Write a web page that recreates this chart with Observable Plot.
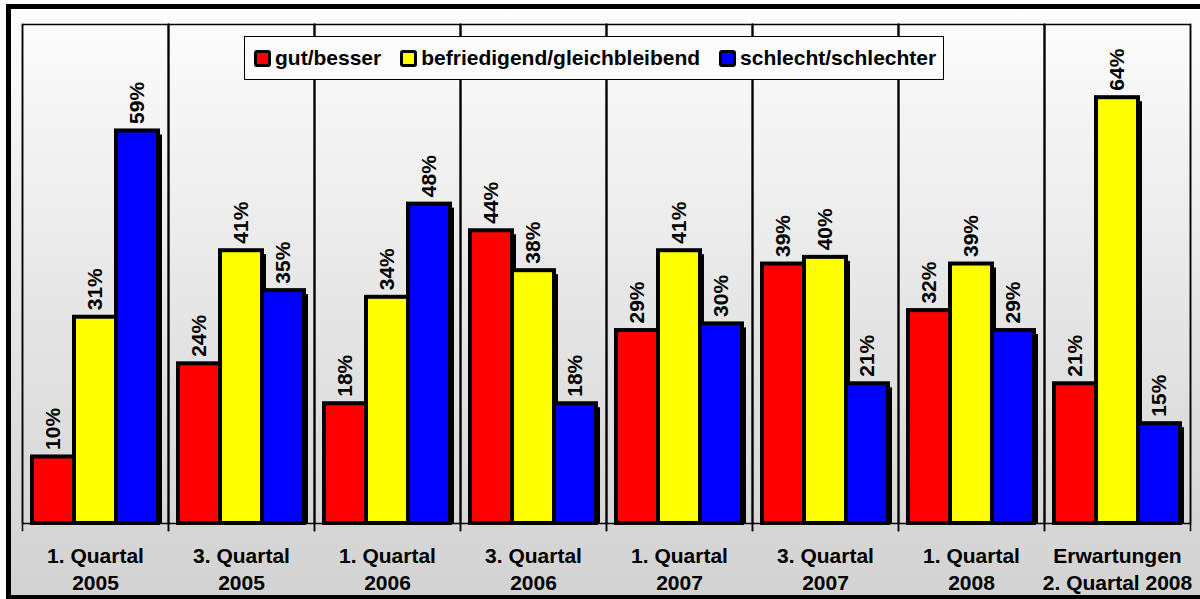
<!DOCTYPE html>
<html>
<head>
<meta charset="utf-8">
<script src="https://cdn.jsdelivr.net/npm/d3@7"></script>
<script src="https://cdn.jsdelivr.net/npm/@observablehq/plot@0.6"></script>
<style>
  html, body { margin: 0; padding: 0; background: #fff; }
  #wrap { position: relative; width: 1200px; height: 599px; overflow: hidden; font-family: "Liberation Sans", Arial, sans-serif; }
  #bg { position: absolute; left: 6px; top: 4px; width: 1210px; height: 596px; box-sizing: border-box;
        border: 5px solid #000; background: linear-gradient(to bottom, #fdfdfd 0%, #e6e6e6 50%, #d2d2d2 100%); }
  #chart { position: absolute; left: 0; top: 0; }
  #legend { position: absolute; left: 244px; top: 36px; width: 700px; height: 44px; box-sizing: border-box;
            border: 1.5px solid #000; background: #fbfbfb; display: flex; align-items: center; padding-left: 9px;
            font-size: 21px; font-weight: bold; color: #000; }
  .item { display: flex; align-items: center; margin-right: 19px; white-space: nowrap; }
  .sw { width: 17px; height: 17px; box-sizing: border-box; border: 3px solid #000; border-radius: 3px; margin-right: 4px; }
</style>
</head>
<body>
<div id="wrap">
  <div id="bg"></div>
  <div id="chart"></div>
  <div id="legend"></div>
</div>
<script>
const categories = [
  "1. Quartal\n2005", "3. Quartal\n2005", "1. Quartal\n2006", "3. Quartal\n2006",
  "1. Quartal\n2007", "3. Quartal\n2007", "1. Quartal\n2008", "Erwartungen\n2. Quartal 2008"
];
const seriesNames = ["gut/besser", "befriedigend/gleichbleibend", "schlecht/schlechter"];
const seriesColors = ["#ff0000", "#ffff00", "#0000ff"];
const gutBesser = [10, 24, 18, 44, 29, 39, 32, 21];
const befriedigend = [31, 41, 34, 38, 41, 40, 39, 64];
const schlecht = [59, 35, 48, 18, 30, 21, 29, 15];
const seriesValues = [gutBesser, befriedigend, schlecht];

const data = categories.flatMap((c, i) =>
  seriesNames.map((s, j) => ({cat: c, series: s, value: seriesValues[j][i]}))
);

const chart = Plot.plot({
  width: 1200,
  height: 599,
  marginLeft: 22,
  marginRight: 10,
  marginTop: 24,
  marginBottom: 76,
  style: {background: "transparent", fontFamily: "'Liberation Sans', Arial, sans-serif", fontSize: "21px", fontWeight: "bold", color: "#000", overflow: "visible"},
  fx: {domain: categories, paddingInner: 0, paddingOuter: 0, label: null},
  x: {domain: seriesNames, paddingInner: 0, paddingOuter: 0.21, axis: null},
  y: {domain: [0, 75], axis: null},
  color: {domain: seriesNames, range: seriesColors},
  marks: [
    Plot.frame({stroke: "#000", strokeWidth: 1.5}),
    Plot.frame({anchor: "left", stroke: "#000", strokeWidth: 1.5, insetBottom: -7}),
    Plot.frame({anchor: "right", stroke: "#000", strokeWidth: 1.5, insetBottom: -7}),
    Plot.barY(data, {fx: "cat", x: "series", y: "value", fill: "#000", dx: 4, dy: 4, insetBottom: 4}),
    Plot.barY(data, {fx: "cat", x: "series", y: "value", fill: "series", stroke: "#000", strokeWidth: 4}),
    Plot.text(data, {fx: "cat", x: "series", y: "value", text: d => d.value + "%", rotate: -90,
      textAnchor: "start", dy: -7, fill: "#000", fontSize: 21, fontWeight: "bold"}),
    Plot.axisFx({anchor: "bottom", tickSize: 0, tickPadding: 20, lineHeight: 1.3, label: null, fontSize: 21, fontWeight: "bold", fill: "#000"})
  ]
});
document.getElementById("chart").appendChild(chart);

const legend = document.getElementById("legend");
seriesNames.forEach((s, i) => {
  const item = document.createElement("div");
  item.className = "item";
  const sw = document.createElement("div");
  sw.className = "sw";
  sw.style.background = seriesColors[i];
  const t = document.createElement("span");
  t.textContent = s;
  item.appendChild(sw);
  item.appendChild(t);
  legend.appendChild(item);
});
</script>
</body>
</html>
